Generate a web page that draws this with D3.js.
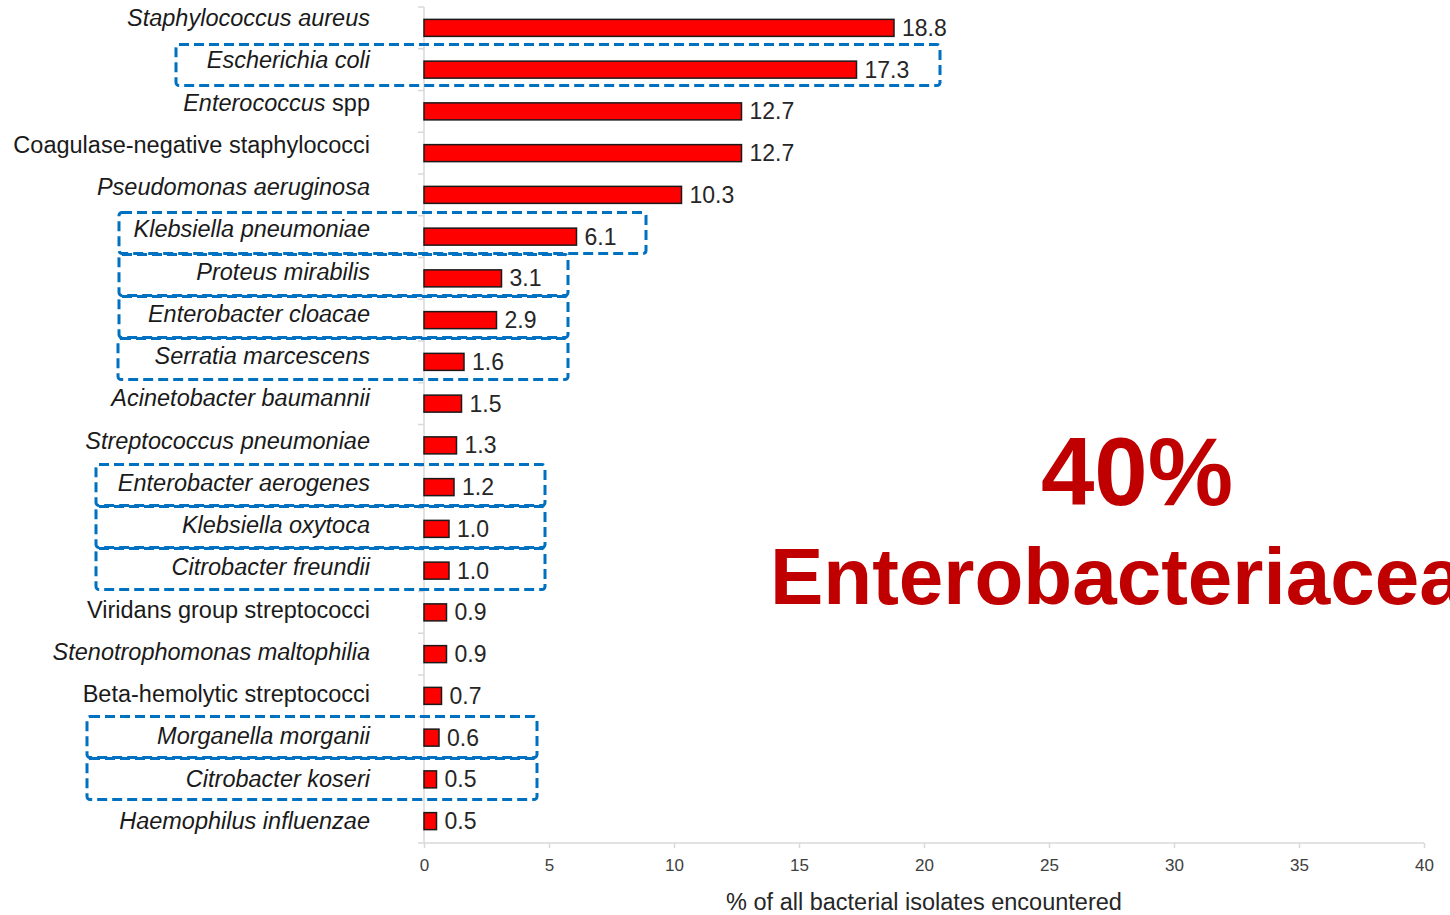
<!DOCTYPE html>
<html>
<head>
<meta charset="utf-8">
<script src="https://cdn.jsdelivr.net/npm/d3@7"></script>
<style>
  body { margin: 0; background: #fff; }
  svg { display: block; font-family: "Liberation Sans", Arial, sans-serif; }
</style>
</head>
<body>
<svg id="chart" width="1450" height="915"></svg>
<script>
// organism names (italic part, plain part) and share of isolates, in %
const organisms = [
  'Staphylococcus aureus', 'Escherichia coli', 'Enterococcus spp',
  'Coagulase-negative staphylococci', 'Pseudomonas aeruginosa',
  'Klebsiella pneumoniae', 'Proteus mirabilis', 'Enterobacter cloacae',
  'Serratia marcescens', 'Acinetobacter baumannii', 'Streptococcus pneumoniae',
  'Enterobacter aerogenes', 'Klebsiella oxytoca', 'Citrobacter freundii',
  'Viridans group streptococci', 'Stenotrophomonas maltophilia',
  'Beta-hemolytic streptococci', 'Morganella morganii', 'Citrobacter koseri',
  'Haemophilus influenzae'
];
const italicPart = [
  'Staphylococcus aureus', 'Escherichia coli', 'Enterococcus',
  '', 'Pseudomonas aeruginosa',
  'Klebsiella pneumoniae', 'Proteus mirabilis', 'Enterobacter cloacae',
  'Serratia marcescens', 'Acinetobacter baumannii', 'Streptococcus pneumoniae',
  'Enterobacter aerogenes', 'Klebsiella oxytoca', 'Citrobacter freundii',
  '', 'Stenotrophomonas maltophilia',
  '', 'Morganella morganii', 'Citrobacter koseri',
  'Haemophilus influenzae'
];
const percent = [18.8, 17.3, 12.7, 12.7, 10.3, 6.1, 3.1, 2.9, 1.6, 1.5,
                 1.3, 1.2, 1.0, 1.0, 0.9, 0.9, 0.7, 0.6, 0.5, 0.5];
const xTicks = [0, 5, 10, 15, 20, 25, 30, 35, 40];

// Enterobacteriaceae rows that get a dashed box
const enterobacteria = [
  'Escherichia coli', 'Klebsiella pneumoniae', 'Proteus mirabilis',
  'Enterobacter cloacae', 'Serratia marcescens', 'Enterobacter aerogenes',
  'Klebsiella oxytoca', 'Citrobacter freundii', 'Morganella morganii',
  'Citrobacter koseri'
];
// left / right pixel edge of each dashed box
const boxLeft = [176, 119, 119, 119, 118, 96, 96, 96, 87, 87];
const boxRight = [940, 646, 568, 568, 568, 545, 545, 545, 537, 537];

const data = organisms.map((name, i) => ({
  name, italic: italicPart[i], value: percent[i]
}));

const svg = d3.select('#chart');
const margin = {top: 7, left: 424, right: 26, bottom: 73};
const width = 1450, height = 915;

const x = d3.scaleLinear()
  .domain([0, 40])
  .range([margin.left, width - margin.right]);

// bars
const y = d3.scaleBand()
  .domain(organisms)
  .range([margin.top, height - margin.bottom]);

// the category labels sit on a slightly wider pitch than the bars
const yLab = d3.scaleBand()
  .domain(organisms)
  .range([-3, height - margin.bottom]);

const yc = d => y(d) + y.bandwidth() / 2;
const ylc = d => yLab(d) + yLab.bandwidth() / 2;

const barH = 17;

// faint y axis with small ticks on row boundaries
const yAxisG = svg.append('g');
yAxisG.append('line')
  .attr('x1', x(0)).attr('x2', x(0))
  .attr('y1', y.range()[0]).attr('y2', y.range()[1])
  .attr('stroke', '#d9d9d9').attr('stroke-width', 1.5);
yAxisG.selectAll('line.tk').data(organisms)
  .join('line')
  .attr('class', 'tk')
  .attr('x1', x(0) - 6).attr('x2', x(0))
  .attr('y1', d => y(d)).attr('y2', d => y(d))
  .attr('stroke', '#d9d9d9').attr('stroke-width', 1.5);

// x axis
const xAxis = svg.append('g')
  .attr('transform', `translate(0,${y.range()[1] + 1})`)
  .call(d3.axisBottom(x).tickValues(xTicks).tickSize(5).tickPadding(11).tickSizeOuter(0));
xAxis.select('.domain')
  .attr('d', `M${x(0) - 6},0H${x(40)}`)
  .attr('stroke', '#d9d9d9').attr('stroke-width', 1.5);
xAxis.selectAll('.tick line').attr('stroke', '#d9d9d9').attr('stroke-width', 1.5);
xAxis.selectAll('.tick text')
  .attr('fill', '#404040')
  .style('font-family', '"Liberation Sans Narrow", "Liberation Sans", Arial, sans-serif')
  .style('font-size', '17px');

svg.append('text')
  .attr('x', (x(0) + x(40)) / 2)
  .attr('y', 910)
  .attr('text-anchor', 'middle')
  .attr('fill', '#262626')
  .style('font-family', '"Liberation Sans Narrow", "Liberation Sans", Arial, sans-serif')
  .style('font-size', '23.5px')
  .text('% of all bacterial isolates encountered');

// dashed boxes round the Enterobacteriaceae, centred between label and bar
svg.append('g').selectAll('rect').data(enterobacteria)
  .join('rect')
  .attr('x', (d, i) => boxLeft[i])
  .attr('width', (d, i) => boxRight[i] - boxLeft[i])
  .attr('y', d => (yc(d) + ylc(d)) / 2 - 20.5)
  .attr('height', 41)
  .attr('rx', 3)
  .attr('fill', 'none')
  .attr('stroke', '#0070c0')
  .attr('stroke-width', 3)
  .attr('stroke-dasharray', '10 5');

// bars
svg.append('g').selectAll('rect').data(data)
  .join('rect')
  .attr('x', x(0))
  .attr('y', d => yc(d.name) - barH / 2)
  .attr('width', d => x(d.value) - x(0))
  .attr('height', barH)
  .attr('fill', '#ff0000')
  .attr('stroke', '#1a1a1a')
  .attr('stroke-width', 1.5);

// value labels
svg.append('g').selectAll('text').data(data)
  .join('text')
  .attr('x', d => x(d.value) + 8)
  .attr('y', d => yc(d.name) + 8)
  .attr('fill', '#262626')
  .style('font-size', '23px')
  .text(d => d.value.toFixed(1));

// organism labels, italic where a species name
const labels = svg.append('g').selectAll('text').data(data)
  .join('text')
  .attr('x', 370)
  .attr('y', d => ylc(d.name) + 8)
  .attr('text-anchor', 'end')
  .attr('fill', '#1a1a1a')
  .style('font-size', '23.5px');
labels.each(function(d) {
  const t = d3.select(this);
  if (d.italic) t.append('tspan').style('font-style', 'italic').text(d.italic);
  const rest = d.name.slice(d.italic.length);
  if (rest) t.append('tspan').text(rest);
});

// annotation
svg.append('text')
  .attr('x', 1137).attr('y', 505)
  .attr('text-anchor', 'middle')
  .attr('fill', '#c00000')
  .style('font-weight', 'bold')
  .style('font-size', '96px')
  .text('40%');
svg.append('text')
  .attr('x', 770).attr('y', 604)
  .attr('fill', '#c00000')
  .style('font-weight', 'bold')
  .style('font-size', '80px')
  .text('Enterobacteriaceae');
</script>
</body>
</html>
